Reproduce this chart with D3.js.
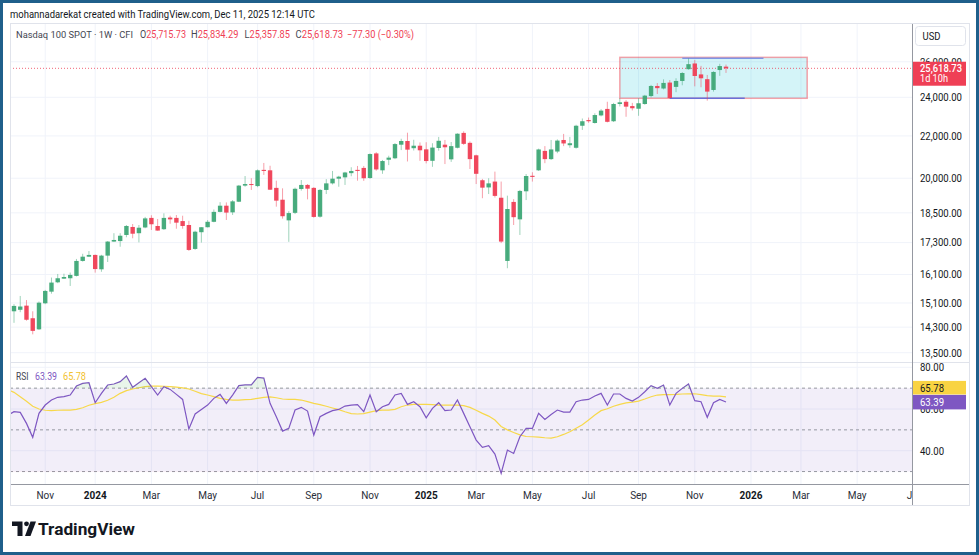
<!DOCTYPE html>
<html><head><meta charset="utf-8">
<script src="https://cdn.jsdelivr.net/npm/d3@7"></script>
<style>
html,body{margin:0;padding:0;background:#fff;}
svg{display:block;}
text{font-family:Roboto,"Liberation Sans",sans-serif;}
</style></head><body>
<svg id="c" width="979" height="555"></svg>
<script>
// ---------- DATA ----------
const weeks = [
"2023-09-25","2023-10-02","2023-10-09","2023-10-16","2023-10-23","2023-10-30","2023-11-06","2023-11-13","2023-11-20","2023-11-27","2023-12-04","2023-12-11","2023-12-18","2023-12-25",
"2024-01-01","2024-01-08","2024-01-15","2024-01-22","2024-01-29","2024-02-05","2024-02-12","2024-02-19","2024-02-26","2024-03-04","2024-03-11","2024-03-18","2024-03-25","2024-04-01","2024-04-08","2024-04-15","2024-04-22","2024-04-29","2024-05-06","2024-05-13","2024-05-20","2024-05-27","2024-06-03","2024-06-10","2024-06-17","2024-06-24","2024-07-01","2024-07-08","2024-07-15","2024-07-22","2024-07-29","2024-08-05","2024-08-12","2024-08-19","2024-08-26","2024-09-02","2024-09-09","2024-09-16","2024-09-23","2024-09-30","2024-10-07","2024-10-14","2024-10-21","2024-10-28","2024-11-04","2024-11-11","2024-11-18","2024-11-25","2024-12-02","2024-12-09","2024-12-16","2024-12-23","2024-12-30",
"2025-01-06","2025-01-13","2025-01-20","2025-01-27","2025-02-03","2025-02-10","2025-02-17","2025-02-24","2025-03-03","2025-03-10","2025-03-17","2025-03-24","2025-03-31","2025-04-07","2025-04-14","2025-04-21","2025-04-28","2025-05-05","2025-05-12","2025-05-19","2025-05-26","2025-06-02","2025-06-09","2025-06-16","2025-06-23","2025-06-30","2025-07-07","2025-07-14","2025-07-21","2025-07-28","2025-08-04","2025-08-11","2025-08-18","2025-08-25","2025-09-01","2025-09-08","2025-09-15","2025-09-22","2025-09-29","2025-10-06","2025-10-13","2025-10-20","2025-10-27","2025-11-03","2025-11-10","2025-11-17","2025-11-24","2025-12-01","2025-12-08"];

const open = [14700,
14820,14870,15010,14590,14230,15090,15490,15820,15950,15965,
16050,16600,16760,16826,16290,16800,17340,17360,17600,17920,
17670,17900,18290,17960,17830,18305,18290,18160,18000,17055,
17710,17910,18130,18540,18800,18520,18970,19670,19740,19650,
20380,20360,19570,19055,18190,18500,19520,19700,19570,18340,
19480,19770,19980,20040,20230,20380,20470,20010,21150,20360,
20850,20920,21570,21750,21400,21520,21345,20800,21410,21570,
20870,21420,22150,21660,21060,19910,19590,19850,19140,16600,
18960,18230,19420,20110,20360,21270,20880,21240,21800,21545,
21420,22510,22800,22650,23040,23380,22740,23640,23760,23530,
23390,23640,24070,24620,24480,24810,24570,24900,25570,25900,
25270,25000,24400,25520,25715.73];

const high = [14900,
15060,15340,15200,14820,15150,15550,15990,16120,16130,16170,
16675,16870,16975,16840,16830,17360,17670,17670,18000,18040,
18000,18330,18400,18245,18480,18380,18410,18380,18170,17770,
17910,18200,18640,18950,18940,19040,19700,20100,20000,20400,
20700,20570,19890,19550,18570,19580,19920,19740,19600,19520,
19960,20330,20110,20290,20500,20560,20560,21150,21210,20840,
21040,21650,21860,22160,21810,21680,21690,21640,21950,21800,
21700,22130,22230,21730,21090,19970,20000,20300,19850,19230,
19080,19480,20190,20270,21380,21500,21800,21830,22100,21950,
22560,22880,22930,23150,23370,23760,23700,23950,23850,23700,
23950,24130,24680,24780,24990,24950,25050,25400,26200,26100,
25760,25240,25450,25880,25834.29];

const low = [14550,
14440,14790,14510,14070,14210,15060,15420,15790,15940,15690,
16030,16575,16750,16170,16200,16560,17330,17140,17510,17470,
17310,17870,17800,17770,17800,18050,17850,17850,16980,17020,
17300,17900,18110,18520,18205,18410,18955,19620,19480,19600,
20150,19480,18760,18260,17330,18450,19450,19070,18300,18300,
19300,19720,19620,19700,20090,19890,19880,19970,20340,20200,
20600,20880,21310,20770,21290,20800,20680,20520,21280,20650,
20750,21390,21560,20420,19740,19120,19300,19150,17280,16330,
18000,17600,19040,19850,20330,20690,20840,21160,21500,21420,
21380,22300,22660,22620,22990,22680,22700,23510,22970,23300,
23020,23600,24000,24180,24430,23930,24280,24660,25540,24600,
24550,23820,24310,25190,25357.85];

const close = [14720,
15000,14980,14540,14180,15110,15515,15810,15965,16010,16085,
16600,16760,16826,16300,16800,17340,17403,17570,17960,17650,
17890,18270,18030,17775,18290,18230,18095,17960,17016,17730,
17910,18130,18540,18800,18510,18985,19670,19740,19700,20360,
20330,19490,19015,18360,18490,19530,19700,19535,18330,19480,
19770,19980,20070,20260,20330,20330,20000,21120,20400,20790,
20950,21600,21750,21330,21520,21300,20790,21430,21760,21445,
21500,22110,21610,20880,20200,19580,19770,19220,17340,18660,
18320,19435,20100,20060,21340,20880,21340,21770,21630,21640,
22510,22740,22740,23060,23290,22710,23640,23730,23500,23415,
23680,24090,24620,24500,24790,23960,24900,25350,25860,25180,
25050,24310,25410,25750,25618.73];

const rsi = [57.0,
58.7,58.4,53.1,46.4,57.9,61.9,64.3,65.6,65.9,66.7,
71.0,72.3,72.6,63.0,67.5,71.5,72.0,73.1,75.8,70.4,
72.6,74.7,70.7,66.7,70.7,69.4,67.0,64.6,50.4,57.6,
59.8,61.9,65.1,67.0,62.7,66.7,71.2,71.6,71.6,75.2,
74.8,62.7,56.3,49.4,50.7,59.5,60.8,59.0,47.5,56.3,
57.9,59.2,59.8,61.4,61.9,62.1,58.7,66.7,58.7,61.1,
62.2,66.7,67.5,62.2,63.5,61.1,55.8,60.3,63.0,59.2,
59.5,64.3,57.9,51.5,45.1,41.6,42.4,38.4,29.1,40.3,
38.7,46.7,50.7,50.7,57.9,55.0,57.4,59.5,58.5,58.5,
63.5,64.3,64.6,66.2,67.5,61.9,67.2,67.2,65.1,63.8,
65.6,68.3,71.2,69.9,71.5,61.9,67.5,69.9,72.0,64.0,
63.5,56.0,63.0,64.6,63.39];

const rsiMA = [69.2,
68.0,65.9,63.7,61.3,60.0,59.4,59.2,59.4,59.5,59.5,
59.8,60.6,61.8,62.6,63.2,64.2,65.6,67.5,68.8,69.6,
70.2,70.7,71.0,71.0,70.9,70.7,70.5,70.1,69.6,68.5,
67.4,66.7,65.9,65.1,64.6,64.3,64.3,64.5,64.6,65.1,
65.6,65.8,65.4,64.8,64.6,64.6,64.3,63.5,62.7,62.1,
61.3,60.5,59.7,58.7,57.8,57.6,57.8,58.5,59.2,59.5,
59.5,59.8,61.1,61.9,62.2,62.2,62.2,62.1,61.9,61.9,
61.9,61.9,61.6,60.8,59.4,57.9,56.6,54.7,51.6,50.0,
48.7,47.6,46.8,46.7,46.5,46.2,46.0,46.7,47.8,49.1,
50.8,52.4,54.7,57.1,59.2,60.1,61.3,62.2,62.9,63.3,
63.8,64.8,65.9,66.7,66.9,66.9,67.0,67.2,67.3,67.3,
66.9,66.4,66.2,66.2,65.78];

const priceTicks = [13500,14300,15100,16100,17300,18500,20000,22000,24000,26000];
const rsiTicks = [80,60,40];
const rsiBands = [70,50,30];
const monthTickDates = ["2023-11-06","2024-01-01","2024-03-04","2024-05-06","2024-07-01","2024-09-02","2024-11-04","2025-01-06","2025-03-03","2025-05-05","2025-07-07","2025-09-01","2025-11-03","2026-01-05","2026-03-02","2026-05-04","2026-07-06"];
const monthTickLabels = ["Nov","2024","Mar","May","Jul","Sep","Nov","2025","Mar","May","Jul","Sep","Nov","2026","Mar","May","Jul"];

// drawings on chart
const boxDates = ["2025-08-11","2026-03-09"];
const boxPrices = [26260, 23946];
const topLineDates = ["2025-10-20","2026-01-19"];
const topLinePrice = 26200;
const bottomLineDates = ["2025-10-06","2025-12-29"];
const bottomLinePrice = 23946;

const lastPrice = 25618.73;
const legendSymbol = "Nasdaq 100 SPOT · 1W · CFI";
const legendOHLC = [["O","25,715.73"],["H","25,834.29"],["L","25,357.85"],["C","25,618.73"]];
const legendChange = "−77.30 (−0.30%)";

// ---------- LAYOUT ----------
const svg = d3.select("#c");
const P = {l:10, t:23, r:970, b:506, axisX:912.5, mainB:362, rsiT:363, rsiB:484};
const UP = "#3fa877", DOWN = "#ef3f55";
const parse = d3.utcParse("%Y-%m-%d");
const dates = weeks.map(parse);

const x = d3.scaleUtc().domain([parse("2023-10-02"), parse("2025-12-08")]).range([14, 726]);
const y = d3.scaleLog().domain([13500, 24000]).range([352.7, 97.3]);
const yr = d3.scaleLinear().domain([40, 80]).range([450.7, 367.3]);

function fit(sel, w){ return sel.attr("textLength", w).attr("lengthAdjust","spacingAndGlyphs"); }

svg.append("rect").attr("x",0).attr("y",0).attr("width",979).attr("height",555).attr("fill","#fff");
// header
fit(svg.append("text").attr("x",10).attr("y",17.5).attr("font-size",11).attr("fill","#131722")
  .text("mohannadarekat created with TradingView.com, Dec 11, 2025 12:14 UTC"), 305);

const defs = svg.append("defs");
defs.append("clipPath").attr("id","mainClip").append("rect")
  .attr("x",P.l).attr("y",P.t).attr("width",P.axisX-P.l).attr("height",P.mainB-P.t);
defs.append("clipPath").attr("id","rsiClip").append("rect")
  .attr("x",P.l).attr("y",P.rsiT).attr("width",P.axisX-P.l).attr("height",P.rsiB-P.rsiT);
defs.append("clipPath").attr("id","obClip").append("rect")
  .attr("x",P.l).attr("y",P.rsiT).attr("width",P.axisX-P.l).attr("height",yr(70)-P.rsiT);
defs.append("clipPath").attr("id","osClip").append("rect")
  .attr("x",P.l).attr("y",yr(30)).attr("width",P.axisX-P.l).attr("height",P.rsiB-yr(30));

const grid = "#f0f3fa";
const tickX = monthTickDates.map(d => x(parse(d)));
svg.append("g").selectAll("line").data(tickX.filter(v=>v<P.axisX)).join("line")
  .attr("x1",d=>d).attr("x2",d=>d).attr("y1",P.t).attr("y2",P.rsiB)
  .attr("stroke",grid).attr("stroke-width",1);
svg.append("g").selectAll("line").data(priceTicks).join("line")
  .attr("x1",P.l).attr("x2",P.axisX).attr("y1",d=>y(d)).attr("y2",d=>y(d))
  .attr("stroke",grid);
svg.append("g").selectAll("line").data(rsiTicks).join("line")
  .attr("x1",P.l).attr("x2",P.axisX).attr("y1",d=>yr(d)).attr("y2",d=>yr(d))
  .attr("stroke",grid);

// ---- drawings (box) ----
const gDraw = svg.append("g").attr("clip-path","url(#mainClip)");
gDraw.append("rect")
  .attr("x", x(parse(boxDates[0]))).attr("y", y(boxPrices[0]))
  .attr("width", x(parse(boxDates[1])) - x(parse(boxDates[0])))
  .attr("height", y(boxPrices[1]) - y(boxPrices[0]))
  .attr("fill","rgba(0,188,212,0.17)").attr("stroke","rgba(242,54,69,0.45)").attr("stroke-width",1.5);

// last price dotted line
svg.append("line").attr("x1",P.l).attr("x2",P.axisX).attr("y1",y(lastPrice)).attr("y2",y(lastPrice))
  .attr("stroke",DOWN).attr("stroke-opacity",0.8).attr("stroke-dasharray","1,2").attr("stroke-width",1);

// ---- candles ----
const gC = svg.append("g").attr("clip-path","url(#mainClip)");
const idx = d3.range(dates.length);
gC.selectAll("line.w").data(idx).join("line")
  .attr("x1",i=>x(dates[i])).attr("x2",i=>x(dates[i]))
  .attr("y1",i=>y(high[i])).attr("y2",i=>y(low[i]))
  .attr("stroke",i=> close[i]>=open[i]?UP:DOWN).attr("stroke-opacity",0.5).attr("stroke-width",1);
gC.selectAll("rect.b").data(idx).join("rect")
  .attr("x",i=>x(dates[i])-2.2).attr("width",4.4)
  .attr("y",i=>y(Math.max(open[i],close[i])))
  .attr("height",i=>Math.max(1, Math.abs(y(open[i])-y(close[i]))))
  .attr("fill",i=> close[i]>=open[i]?UP:DOWN).attr("fill-opacity",0.95);

// blue lines
gDraw.append("line").attr("x1",x(parse(topLineDates[0]))).attr("x2",x(parse(topLineDates[1])))
  .attr("y1",y(topLinePrice)).attr("y2",y(topLinePrice)).attr("stroke","#7f95e6").attr("stroke-width",1.5);
gDraw.append("line").attr("x1",x(parse(bottomLineDates[0]))).attr("x2",x(parse(bottomLineDates[1])))
  .attr("y1",y(bottomLinePrice)).attr("y2",y(bottomLinePrice)).attr("stroke","#6a70d8").attr("stroke-width",1.5);

// legend
fit(svg.append("text").attr("x",16).attr("y",38).attr("font-size",9.6).attr("fill","#434651").text(legendSymbol), 117);
const legX = [140,191,244.5,295.5], legW=[46,47.5,45.5,47.5];
legendOHLC.forEach((p,k)=>{
  const t = fit(svg.append("text").attr("x",legX[k]).attr("y",38).attr("font-size",10.2), legW[k]);
  t.append("tspan").attr("fill","#434651").text(p[0]);
  t.append("tspan").attr("fill",DOWN).text(p[1]);
});
fit(svg.append("text").attr("x",347).attr("y",38).attr("font-size",10.2).attr("fill",DOWN).text(legendChange), 67);

// pane separator
svg.append("line").attr("x1",P.l).attr("x2",P.r).attr("y1",P.mainB+0.5).attr("y2",P.mainB+0.5).attr("stroke","#e0e3eb");

// ---- RSI pane ----
const gR = svg.append("g").attr("clip-path","url(#rsiClip)");
gR.append("rect").attr("x",P.l).attr("width",P.axisX-P.l).attr("y",yr(70)).attr("height",yr(30)-yr(70))
  .attr("fill","rgba(126,87,194,0.1)");
gR.selectAll("line.band").data(rsiBands).join("line")
  .attr("x1",P.l).attr("x2",P.axisX).attr("y1",d=>yr(d)).attr("y2",d=>yr(d))
  .attr("stroke","#9598a1").attr("stroke-dasharray","3,3").attr("stroke-width",1);
const lineR = d3.line().x(i=>x(dates[i])).y(i=>yr(rsi[i]));
const lineM = d3.line().x(i=>x(dates[i])).y(i=>yr(rsiMA[i]));
const areaOB = d3.area().x(i=>x(dates[i])).y0(yr(70)).y1(i=>yr(rsi[i]));
const areaOS = d3.area().x(i=>x(dates[i])).y0(yr(30)).y1(i=>yr(rsi[i]));
svg.append("path").datum(idx).attr("d",areaOB).attr("fill","rgba(76,175,80,0.12)").attr("clip-path","url(#obClip)");
svg.append("path").datum(idx).attr("d",areaOS).attr("fill","rgba(242,54,69,0.12)").attr("clip-path","url(#osClip)");
gR.append("path").datum(idx).attr("d",lineM).attr("fill","none").attr("stroke","#f7d84a").attr("stroke-width",1.2);
gR.append("path").datum(idx).attr("d",lineR).attr("fill","none").attr("stroke","#7e57c2").attr("stroke-width",1.2);

fit(svg.append("text").attr("x",16).attr("y",379.5).attr("font-size",10.5).attr("fill","#434651").text("RSI"),12.5);
fit(svg.append("text").attr("x",35).attr("y",379.5).attr("font-size",10.5).attr("fill","#7e57c2").text(d3.format(".2f")(rsi[rsi.length-1])),22);
fit(svg.append("text").attr("x",63).attr("y",379.5).attr("font-size",10.5).attr("fill","#f2c12e").text(d3.format(".2f")(rsiMA[rsiMA.length-1])),23);

// ---- axes ----
const fmt = d3.format(",.2f");
svg.append("g").selectAll("text").data(priceTicks).join("text")
  .attr("x",920).attr("y",d=>y(d)+3.8).attr("font-size",10.5).attr("fill","#131722")
  .attr("textLength",42).attr("lengthAdjust","spacingAndGlyphs").text(d=>fmt(d));
svg.append("g").selectAll("text").data(rsiTicks).join("text")
  .attr("x",920).attr("y",d=>yr(d)+3.8).attr("font-size",10.5).attr("fill","#131722")
  .attr("textLength",24).attr("lengthAdjust","spacingAndGlyphs").text(d=>fmt(d));

// USD box
svg.append("rect").attr("x",915.5).attr("y",26.5).attr("width",50).attr("height",19).attr("rx",3)
  .attr("fill","#fff").attr("stroke","#e0e3eb");
fit(svg.append("text").attr("x",922.5).attr("y",39.5).attr("font-size",10.5).attr("fill","#131722").text("USD"),18);

// last price label
const ly = y(lastPrice);
svg.append("rect").attr("x",913).attr("y",ly-6.6).attr("width",53).attr("height",24).attr("fill",DOWN);
fit(svg.append("text").attr("x",920).attr("y",ly+3.5).attr("font-size",10.5).attr("fill","#fff").attr("font-weight",500).text(fmt(lastPrice)),42);
fit(svg.append("text").attr("x",920).attr("y",ly+13.6).attr("font-size",10.5).attr("fill","#fff").text("1d 10h"),28);

// RSI value labels
const yMAlab = 387.7, yRlab = 401.7;
svg.append("rect").attr("x",913).attr("y",yMAlab-6.8).attr("width",53).attr("height",13.6).attr("fill","#f9d342");
fit(svg.append("text").attr("x",920).attr("y",yMAlab+3.8).attr("font-size",10.5).attr("fill","#131722").text(d3.format(".2f")(rsiMA[rsiMA.length-1])),24);
svg.append("rect").attr("x",913).attr("y",yRlab-6.8).attr("width",53).attr("height",14.5).attr("fill","#7e57c2");
fit(svg.append("text").attr("x",920).attr("y",yRlab+3.8).attr("font-size",10.5).attr("fill","#fff").text(d3.format(".2f")(rsi[rsi.length-1])),24);

// time axis
svg.append("line").attr("x1",P.l).attr("x2",P.r).attr("y1",P.rsiB+0.5).attr("y2",P.rsiB+0.5).attr("stroke","#9598a1");
defs.append("clipPath").attr("id","tClip").append("rect").attr("x",P.l).attr("y",P.rsiB).attr("width",P.axisX-P.l).attr("height",P.b-P.rsiB);
svg.append("g").attr("clip-path","url(#tClip)").selectAll("text").data(monthTickLabels).join("text")
  .attr("x",(d,k)=>tickX[k]).attr("y",499).attr("text-anchor","middle").attr("font-size",10)
  .attr("font-weight",d=>/^\d/.test(d)?700:400).attr("fill",d=>/^\d/.test(d)?"#131722":"#2a2e39").text(d=>d);

// price axis separator
svg.append("line").attr("x1",P.axisX).attr("x2",P.axisX).attr("y1",P.t).attr("y2",P.b).attr("stroke","#9598a1");
svg.append("rect").attr("x",P.l+0.5).attr("y",P.t+0.5).attr("width",P.r-P.l-1).attr("height",P.b-P.t-1)
  .attr("fill","none").attr("stroke","#e0e3eb");

// logo
const lgG = svg.append("g").attr("fill","#131722");
lgG.append("path").attr("d","M12,521.5 H22.5 V536 H17.5 V526 H12 Z");
lgG.append("circle").attr("cx",26.5).attr("cy",523.8).attr("r",2.4);
lgG.append("path").attr("d","M30.5,521.5 H36 L30.5,536 H25 Z");
fit(svg.append("text").attr("x",38).attr("y",535).attr("font-size",17).attr("font-weight",700).attr("fill","#131722")
  .text("TradingView"), 97);

// outer border
svg.append("rect").attr("x",1.5).attr("y",1.5).attr("width",976).attr("height",552)
  .attr("fill","none").attr("stroke","#1f5f8b").attr("stroke-width",3);
</script>
</body></html>
